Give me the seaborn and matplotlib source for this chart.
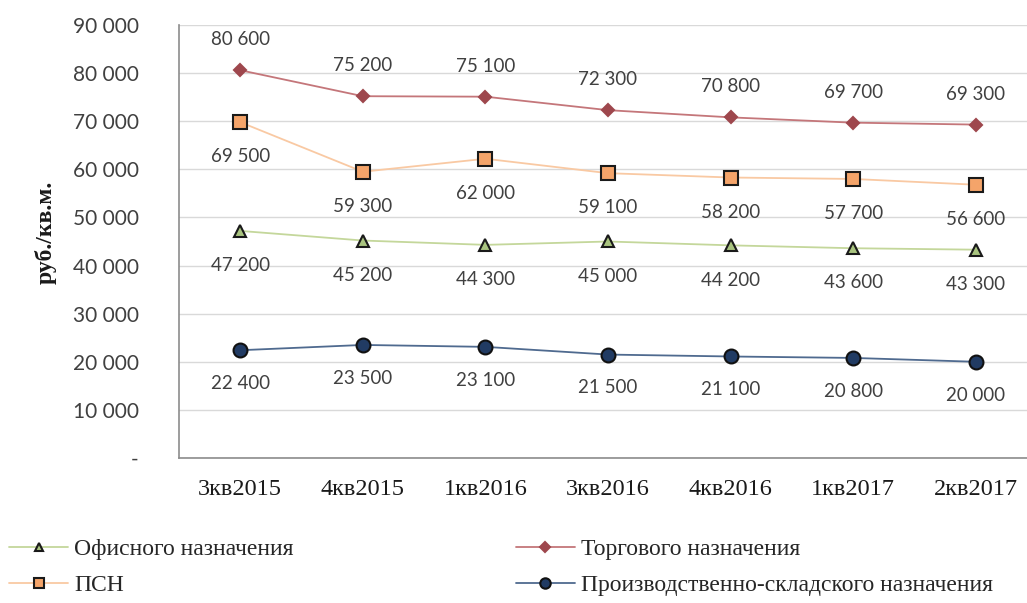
import numpy as np
import pandas as pd
import matplotlib
matplotlib.use("Agg")
import matplotlib.pyplot as plt
import seaborn as sns
from matplotlib.ticker import FuncFormatter, FixedLocator

# quarters on the x axis
quarters = ['3кв2015', '4кв2015', '1кв2016', '3кв2016', '4кв2016', '1кв2017', '2кв2017']

# price per sq.m. by purpose (руб./кв.м.)
office = [47200, 45200, 44300, 45000, 44200, 43600, 43300]
retail = [80600, 75200, 75100, 72300, 70800, 69700, 69300]
psn = [69500, 59300, 62000, 59100, 58200, 57700, 56600]
industrial = [22400, 23500, 23100, 21500, 21100, 20800, 20000]

# plotted point values (markers sit slightly off the labels in the source)
office_pts = [47200, 45200, 44300, 45000, 44200, 43600, 43300]
retail_pts = [80600, 75200, 75100, 72300, 70800, 69700, 69300]
psn_pts = [69800, 59500, 62200, 59200, 58300, 58000, 56800]
industrial_pts = [22400, 23500, 23100, 21500, 21100, 20800, 20000]

names = ['Офисного назначения', 'ПСН', 'Торгового назначения',
         'Производственно-складского назначения']

sns.set_style('white')
plt.rcParams['font.family'] = ['Liberation Serif', 'DejaVu Serif']

fig = plt.figure(figsize=(10.27, 6.03), dpi=100)
ax = fig.add_axes([179 / 1027, 1 - 458 / 603, (1037 - 179) / 1027, (458 - 25) / 603])

# style per series: line colour, marker, face, edge, size, label offset (pt)
styles = {
    'Офисного назначения': dict(line='#C4D79B', marker='^', face='#A9C47F', edge='#1A1A1A', ms=8, dy=-25),
    'ПСН': dict(line='#F9C9A3', marker='s', face='#F4A46A', edge='#1A1A1A', ms=10, dy=-25),
    'Торгового назначения': dict(line='#C4767A', marker='D', face='#9E474D', edge='#9E474D', ms=6.5, dy=22),
    'Производственно-складского назначения': dict(line='#4F6A8F', marker='o', face='#213B63', edge='#111111', ms=10, dy=-24),
}
values = {
    'Офисного назначения': (office, office_pts),
    'ПСН': (psn, psn_pts),
    'Торгового назначения': (retail, retail_pts),
    'Производственно-складского назначения': (industrial, industrial_pts),
}

xs = np.arange(len(quarters))
handles = []
for name in names:
    st = styles[name]
    labels, pts = values[name]
    df = pd.DataFrame({'x': xs, 'y': pts})
    sns.lineplot(data=df, x='x', y='y', ax=ax, color=st['line'], linewidth=1.3,
                 marker=st['marker'], markersize=st['ms'], markerfacecolor=st['face'],
                 markeredgecolor=st['edge'], markeredgewidth=1.5, sort=False, zorder=3)
    handles.append(ax.lines[-1])
    for xi, yi, lab in zip(xs, pts, labels):
        ax.annotate('{:,}'.format(lab).replace(',', ' '), (xi, yi), xytext=(0, st['dy']),
                    textcoords='offset points', ha='center', va='center',
                    fontsize=13.5, color='#404040', family='Lato')

ax.set_xlim(-0.5, 6.5)
ax.set_ylim(0, 90000)
ax.set_yticks(np.arange(0, 90001, 10000))
ax.yaxis.set_major_formatter(FuncFormatter(
    lambda v, p: '-' if v == 0 else '{:,.0f}'.format(v).replace(',', ' ')))
ax.set_xticks(xs)
ax.set_xticklabels(quarters)
ax.xaxis.set_minor_locator(FixedLocator(np.arange(-0.5, 7, 1)))
ax.tick_params(axis='x', which='major', length=0, pad=15, labelsize=17.5, labelcolor='#1A1A1A')
ax.tick_params(axis='x', which='minor', length=5, width=1, color='#8C8C8C', direction='out')
ax.tick_params(axis='y', length=5, width=1, color='#8C8C8C', direction='out', pad=24,
               labelsize=15, labelcolor='#404040')
for lab in ax.get_yticklabels():
    lab.set_family('Lato')

ax.grid(axis='y', color='#D9D9D9', linewidth=1)
ax.set_axisbelow(True)
for s in ['top', 'right']:
    ax.spines[s].set_visible(False)
for s in ['left', 'bottom']:
    ax.spines[s].set_color('#8C8C8C')
    ax.spines[s].set_linewidth(1.2)

ax.set_xlabel('')
ax.set_ylabel('руб./кв.м.', fontsize=17, fontweight='bold', color='#1A1A1A')
ax.yaxis.set_label_coords(-0.143, 0.52)

fig.legend(handles=handles, labels=names, ncol=2, loc='upper left',
           bbox_to_anchor=(0.0, 0.122), frameon=False, fontsize=17,
           handlelength=2.5, handletextpad=0.25, columnspacing=9.4,
           labelspacing=0.6, borderaxespad=0, markerscale=0.75)

fig.savefig('out.png', dpi=100)
